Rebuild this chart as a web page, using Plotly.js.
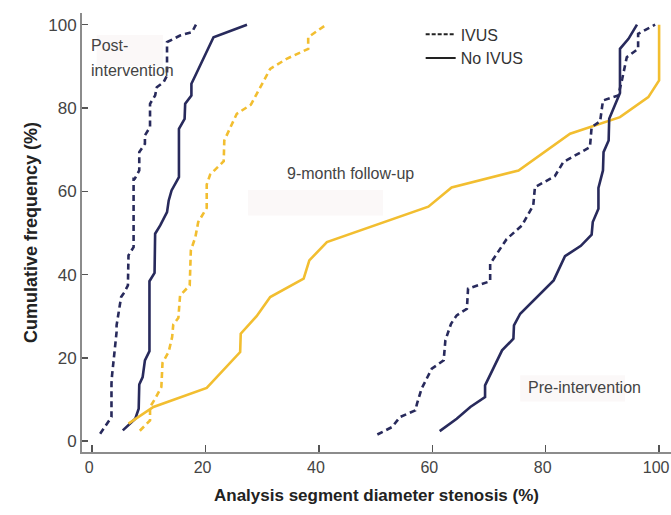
<!DOCTYPE html>
<html>
<head>
<meta charset="utf-8">
<script src="https://cdn.plot.ly/plotly-3.0.1.min.js"></script>
<style>
html,body{margin:0;padding:0;background:#fff;}
#chart{width:671px;height:515px;}
</style>
</head>
<body>
<div id="chart"></div>
<script>
// Post-intervention
const postIvusX = [1.4, 3.4, 3.4, 3.5, 4.3, 4.3, 5.1, 5.7, 6.3, 6.4, 7.3, 7.3, 7.5, 8.3, 8.3, 9.3, 9.3, 10.2, 10.2, 11.1, 11.4, 12.6, 13.2, 13.2, 15.5, 17.6, 18.3];
const postIvusY = [1.8, 5.8, 13.8, 15.8, 26.2, 27.8, 34.6, 35.8, 37.4, 44.6, 46.6, 63, 63, 65, 69.4, 71.4, 73.4, 75.4, 81, 83, 85, 86.2, 87.8, 95.8, 97.4, 98.2, 100];
const postNoIvusX = [5.4, 7.6, 8.2, 8.3, 8.9, 9.3, 10.1, 10.1, 11.0, 11.1, 12.0, 13.2, 13.5, 14.0, 15.3, 15.3, 16.3, 16.4, 17.5, 17.5, 18.2, 21.4, 27.3];
const postNoIvusY = [2.6, 5.4, 7.8, 13.6, 15.4, 19.4, 21.6, 38.4, 40.4, 49.8, 51.8, 55, 57.8, 60.2, 63.4, 75, 77.4, 81, 83, 85.8, 87.8, 97, 100];
// 9-month follow-up
const fuIvusX = [8.4, 10.2, 10.2, 11.1, 12.2, 12.4, 13.5, 14.1, 14.3, 15.2, 15.5, 17.2, 17.4, 18.2, 18.7, 20.2, 20.2, 20.8, 23.2, 23.3, 25.5, 28.0, 31.4, 34.3, 38.1, 38.1, 41.3];
const fuIvusY = [2.5, 5, 8.2, 10.2, 13, 18.8, 21.5, 25, 28, 29.6, 35, 37.4, 45.8, 49, 52.6, 56, 61.6, 64, 67.2, 72.2, 78.6, 80.8, 89.4, 91.8, 94.2, 97, 100];
const fuNoIvusX = [6.4, 10.8, 20.2, 26.1, 26.2, 29.0, 31.4, 37.3, 38.3, 41.4, 59.3, 63.4, 75.2, 84.3, 93.1, 98.1, 100, 100];
const fuNoIvusY = [4.2, 8.2, 12.8, 21.4, 25.8, 30, 34.6, 39, 43.4, 47.8, 56.3, 60.9, 65, 73.8, 77.8, 82.6, 86.6, 100];
// Pre-intervention
const preIvusX = [50.3, 52.9, 54.3, 57.0, 57.3, 58.1, 59.9, 62.0, 62.3, 63.3, 64.3, 66.1, 66.3, 70.2, 70.2, 71.4, 73.1, 75.8, 77.8, 78.1, 81.6, 83.1, 87.8, 88.1, 89.6, 90.1, 92.8, 93.5, 94.3, 96.3, 96.3, 99.3];
const preIvusY = [1.6, 3.4, 5.8, 7.4, 9, 12.6, 17.4, 19.4, 24.2, 28.2, 30.2, 31.8, 36.6, 38.4, 42.6, 45, 48.5, 51.8, 56.6, 61, 63.6, 67, 70.6, 75.4, 76.8, 81.8, 83, 87, 92.2, 94.2, 97.8, 100];
const preNoIvusX = [61.3, 64.3, 66.7, 69.3, 69.3, 72.3, 74.3, 74.4, 75.5, 81.4, 83.4, 86.2, 88.1, 88.3, 89.3, 89.3, 90.1, 90.2, 91.1, 91.2, 93.1, 93.1, 94.6, 96.1];
const preNoIvusY = [2.4, 5.4, 8.2, 10.6, 13.4, 21.8, 24.6, 27.8, 30.6, 38.6, 44.4, 46.9, 49.6, 52.6, 55.8, 60.8, 65, 69.4, 72.2, 77.4, 83.6, 94.2, 96.6, 100];

const tickVals = [0, 20, 40, 60, 80, 100];
const legendNames = ['IVUS', 'No IVUS'];
const navy = '#282a5c';
const yellow = '#f2be30';
const dashPat = '6px,4px';
const fontFam = '"Liberation Sans", Arial, sans-serif';

function tr(x, y, color, dash) {
  return {x: x, y: y, type: 'scatter', mode: 'lines', showlegend: false, hoverinfo: 'skip',
    line: {color: color, width: 2.6, dash: dash}};
}
const data = [
  tr(postIvusX, postIvusY, navy, dashPat),
  tr(postNoIvusX, postNoIvusY, navy, 'solid'),
  tr(fuIvusX, fuIvusY, yellow, dashPat),
  tr(fuNoIvusX, fuNoIvusY, yellow, 'solid'),
  tr(preIvusX, preIvusY, navy, dashPat),
  tr(preNoIvusX, preNoIvusY, navy, 'solid'),
  {x: [null], y: [null], type: 'scatter', mode: 'lines', name: legendNames[0], showlegend: true,
   line: {color: '#222', width: 2, dash: '4px,2px'}},
  {x: [null], y: [null], type: 'scatter', mode: 'lines', name: legendNames[1], showlegend: true,
   line: {color: '#222', width: 2, dash: 'solid'}}
];

const annFont = {family: fontFam, size: 16, color: '#444'};
const layout = {
  width: 671, height: 515,
  margin: {l: 82, r: 0, t: 13, b: 63},
  paper_bgcolor: '#fff', plot_bgcolor: '#fff',
  font: {family: fontFam, color: '#444'},
  showlegend: true,
  legend: {x: 0.575, y: 0.99, xanchor: 'left', yanchor: 'top', bgcolor: 'rgba(0,0,0,0)',
    font: {family: fontFam, size: 16, color: '#333'}, tracegroupgap: 0, itemwidth: 30},
  xaxis: {range: [-1.8, 102.1], tickvals: tickVals, ticktext: tickVals.map(String),
    showline: true, linecolor: '#8c8c8c', linewidth: 2, ticks: 'inside', ticklen: 7, tickwidth: 1.5,
    tickcolor: '#555', showgrid: false, zeroline: false, ticklabeloverflow: 'allow', ticklabelshift: -3,
    tickfont: {family: fontFam, size: 16, color: '#444'},
    title: {text: 'Analysis segment diameter stenosis (%)', standoff: 14,
      font: {family: fontFam, size: 17, color: '#222', weight: 'bold'}}},
  yaxis: {range: [-2.6, 102.8], tickvals: tickVals, ticktext: tickVals.map(String),
    showline: true, linecolor: '#8c8c8c', linewidth: 2, ticks: 'inside', ticklen: 6, tickwidth: 1.5,
    tickcolor: '#555', showgrid: false, zeroline: false,
    tickfont: {family: fontFam, size: 17, color: '#444'},
    title: {text: 'Cumulative frequency (%)', standoff: 6,
      font: {family: fontFam, size: 18, color: '#222', weight: 'bold'}}},
  shapes: [
    {type: 'rect', xref: 'x', yref: 'y', x0: 0.8, x1: 12.5, y0: 90, y1: 97.5, fillcolor: '#fbf8f8', line: {width: 0}, layer: 'below'},
    {type: 'rect', xref: 'x', yref: 'y', x0: 27.5, x1: 51.3, y0: 54.2, y1: 60.3, fillcolor: '#fbf8f8', line: {width: 0}, layer: 'below'},
    {type: 'rect', xref: 'x', yref: 'y', x0: 75.5, x1: 94, y0: 9.5, y1: 15.8, fillcolor: '#fbf8f8', line: {width: 0}, layer: 'below'}
  ],
  annotations: [
    {text: 'Post-', x: -0.6, y: 95, xref: 'x', yref: 'y', xanchor: 'left', yanchor: 'middle', showarrow: false, font: annFont},
    {text: 'intervention', x: -0.6, y: 89, xref: 'x', yref: 'y', xanchor: 'left', yanchor: 'middle', showarrow: false, font: annFont},
    {text: '9-month follow-up', x: 45.5, y: 64.3, xref: 'x', yref: 'y', xanchor: 'center', yanchor: 'middle', showarrow: false, font: annFont},
    {text: 'Pre-intervention', x: 86.8, y: 13, xref: 'x', yref: 'y', xanchor: 'center', yanchor: 'middle', showarrow: false, font: annFont}
  ]
};
Plotly.newPlot('chart', data, layout, {staticPlot: true, displayModeBar: false});
</script>
</body>
</html>
